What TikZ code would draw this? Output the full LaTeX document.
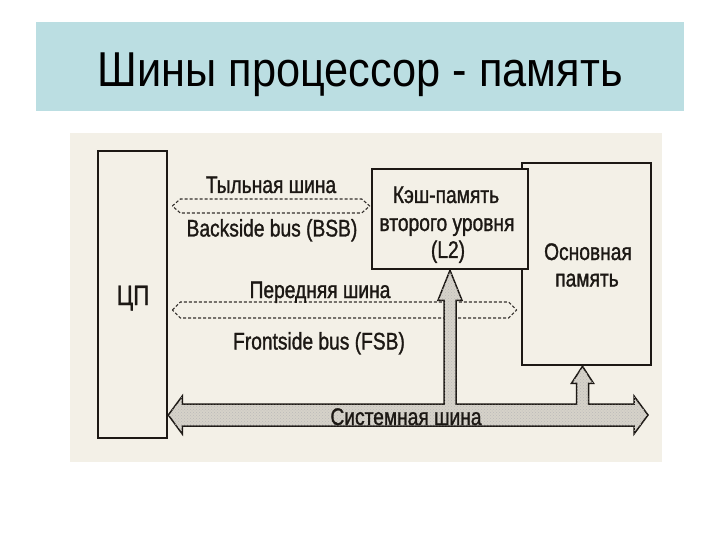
\documentclass[tikz,border=0pt]{standalone}
\usepackage{fontspec}
\usepackage{graphicx}
\setmainfont{Liberation Sans}
\newfontfamily\diagfont[FakeStretch=0.8,FakeBold=1.2]{Liberation Sans}
\usetikzlibrary{calc,patterns}
\definecolor{titlebg}{RGB}{187,222,226}
\definecolor{scanbg}{RGB}{243,240,231}
\definecolor{busfill}{RGB}{214,210,201}
\definecolor{ink}{RGB}{28,24,20}
\tikzset{
  unitbox/.style={draw=ink, line width=2.6, fill=scanbg, inner sep=0},
  lbl/.style={font=\diagfont\fontsize{24}{27}\selectfont, inner sep=0, anchor=base, text=ink},
  dashbus/.style={draw=ink!90, line width=1.1, dash pattern=on 3pt off 2pt, line join=round},
  sysbus/.style={draw=ink, line width=1.5, fill=busfill, line join=miter,
    postaction={pattern=crosshatch dots, pattern color=ink!30}},
}
\begin{document}
\begin{tikzpicture}[x=1pt,y=-1pt]
\useasboundingbox (0,0) rectangle (720,540);
\fill[white] (0,0) rectangle (720,540);
% title bar
\fill[titlebg] (36,22) rectangle (684,111);
\node[anchor=base, inner sep=0] (title) at (360,86.7)
  {\resizebox{525pt}{\height}{\fontsize{49}{49}\selectfont Шины процессор - память}};
% scanned area
\fill[scanbg] (70,133) rectangle (662,462);
% units
\node[unitbox, minimum width=69, minimum height=287] (cpu) at (132.5,294.5) {};
\node[unitbox, minimum width=129, minimum height=202] (mem) at (586.5,264) {};
\node[unitbox, minimum width=156, minimum height=100] (cache) at (450,219) {};
\node[lbl] (cpuTxt) at (133,305) {\fontsize{28}{28}\selectfont ЦП};
\node[lbl] (cacheA) at (446,203) {Кэш-память};
\node[lbl] (cacheB) at (447,231) {второго уровня};
\node[lbl] (cacheC) at (448,258) {(L2)};
\node[lbl] (memA) at (588,260) {Основная};
\node[lbl] (memB) at (587,286.5) {память};
% backside bus
\coordinate (bsbY) at (0,206);
\coordinate (bsbL) at ($(cpu.east |- bsbY)+(4,0)$);
\coordinate (bsbR) at ($(cache.west |- bsbY)+(-1,0)$);
\draw[dashbus] (bsbL) -- ++(8,-7) -- ($(bsbR)+(-8,-7)$) -- (bsbR) -- ++(-8,7)
  -- ($(bsbL)+(8,7)$) -- cycle;
\node[lbl] (bsbTop) at (271,193) {Тыльная шина};
\node[lbl] (bsbBot) at (272,236.5) {Backside bus (BSB)};
% frontside bus
\coordinate (fsbY) at (0,310);
\coordinate (fsbL) at ($(cpu.east |- fsbY)+(4,0)$);
\coordinate (fsbR) at ($(mem.west |- fsbY)+(-4,0)$);
\draw[dashbus] (fsbL) -- ++(8,-8) -- ($(fsbR)+(-8,-8)$) -- (fsbR) -- ++(-8,8)
  -- ($(fsbL)+(8,8)$) -- cycle;
\node[lbl] (fsbTop) at (320,298) {Передняя шина};
\node[lbl] (fsbBot) at (319,349.5) {Frontside bus (FSB)};
% system bus
\coordinate (sysY) at (0,415);
\coordinate (sysL) at (cpu.east |- sysY);
\coordinate (sysR) at (648,415);
\coordinate (cacheIn) at (cache.south);
\coordinate (memIn) at ($(mem.south)+(-4,0)$);
\draw[sysbus] (sysL) -- ++(14,-19) -- ++(0,8)
  -- ($(cacheIn |- sysL)+(-6,-11)$) -- ($(cacheIn)+(-6,30)$) -- ++(-6,0)
  -- (cacheIn) -- ++(12,30) -- ++(-6,0) -- ($(cacheIn |- sysL)+(6,-11)$)
  -- ($(memIn |- sysL)+(-6,-11)$) -- ($(memIn)+(-6,17)$) -- ++(-5,0)
  -- (memIn) -- ++(11,17) -- ++(-5,0) -- ($(memIn |- sysL)+(6,-11)$)
  -- ($(sysR)+(-14,-11)$) -- ++(0,-8) -- (sysR) -- ++(-14,19) -- ++(0,-8)
  -- ($(sysL)+(14,11)$) -- ++(0,8) -- cycle;
\node[lbl] (sysTxt) at (406,425) {Системная шина};
\end{tikzpicture}
\end{document}
